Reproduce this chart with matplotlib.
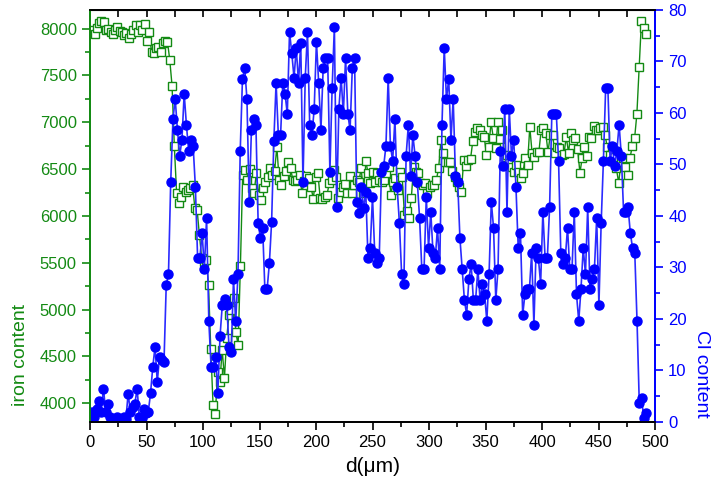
import numpy as np
import matplotlib
matplotlib.use("Agg")
import matplotlib.pyplot as plt
from matplotlib.ticker import MultipleLocator

plt.rcParams['font.family'] = ['Liberation Sans', 'DejaVu Sans']

# iron content (left axis) in order along d
iron = [7950, 7990, 7940, 8010, 8060, 8080, 8070, 7990, 8000, 7960, 7940, 7980,
        8020, 7970, 7960, 7930, 7950, 7900, 7940, 7990, 8040, 7960,
        8040, 7990, 8050, 7870, 7965, 7750, 7740, 7795, 7800, 7750, 7850, 7870,
        7860, 7665, 7390, 6750,
        6245, 6140, 6200, 6310, 6255, 6280, 6300, 6330, 6085, 6065, 5800, 5550,
        5510, 5530, 5265, 4580, 3980, 3885, 4335, 4230, 4570, 4270, 4700, 4945,
        4995, 5125, 4760, 4620, 5465, 6440, 6490, 6385,
        6500, 6300, 6245, 6460, 6225, 6170, 6300, 6365, 6415, 6510, 6440, 6480,
        6735, 6385, 6330, 6425, 6480, 6575, 6510, 6385, 6375, 6380, 6440, 6245,
        6375, 6425, 6400, 6310, 6180,
        6415, 6460, 6190, 6180, 6200, 6225, 6350, 6385, 6490, 6415, 6190, 6255,
        6310, 6340, 6245, 6425, 6245, 6330, 6385, 6365, 6510, 6245, 6590, 6460,
        6350, 6470, 6365, 6460, 6385, 6365, 6385, 6460, 6525, 6225, 6365, 6405,
        6280, 6470, 6415, 6010, 6050, 5980, 6190, 6525, 6470, 6460, 6350,
        6330, 6350, 6245, 6310, 6330, 6330, 6385, 6510, 6810, 6675, 6575, 6580,
        6580, 6480, 6415, 6365, 6310, 6255, 6600, 6535, 6600, 6610, 6800, 6900,
        6940, 6920, 6865, 6845, 6650, 6735, 7000, 6830, 6725, 7000, 6820, 6920,
        6630, 6650, 6565, 6525, 6470, 6545, 6470, 6405, 6460, 6620, 6545, 6950,
        6675, 6630, 6680, 6685, 6920, 6940, 6885, 6685, 6865, 6865, 6675, 6735,
        6725, 6650, 6660, 6845, 6675, 6885, 6810, 6830, 6715, 6460, 6620, 6735,
        6640, 6845, 6830, 6960, 6920, 6920, 6940, 6950, 6865, 6735, 6650, 6735,
        6630, 6510, 6350, 6575, 6620, 6525, 6440, 6620, 6750, 6830, 7090, 7590,
        8080, 8010, 7945]

# Cl content (right axis)
cl = [1.5, 2, 1, 2.5, 4, 2, 6.5, 2, 3.5, 1, 0.5, 0.5, 1, 0.5, 0.5, 1, 0.5, 5.5,
      2, 3, 3.5, 6.5, 1, 0.8, 2.5, 1.7, 2, 5.6, 10.7, 14.6, 7.8, 12.6, 12, 11.7,
      26.6, 28.7, 46.6, 58.8, 62.7, 56.7, 51.7, 54.8, 63.7, 57.7, 52.6, 54.8,
      53.6, 45.6, 31.8, 31.8, 36.7, 29.7, 39.6, 19.6, 10.7, 10.7, 12.6, 5.6,
      16.7, 22.7, 23.9, 22.7, 14.6, 13.6, 27.7, 19.6, 28.7, 52.6, 66.6, 68.7,
      62.7, 42.7, 56.7, 58.8,
      57.7, 38.6, 35.7, 37.7, 25.8, 25.8, 30.8, 38.8, 54.6, 65.8, 55.7, 55.7,
      65.8, 63.7, 59.8, 75.7, 71.6, 66.8, 72.6, 65.8, 73.6, 46.6, 66.8, 75.7,
      57.7, 55.7, 60.8, 73.8, 65.8, 56.7, 68.7, 70.7, 70.7, 48.6, 64.8, 76.7,
      41.7, 60.8, 66.8, 59.8, 70.7, 59.8, 56.7, 68.7, 70.7, 42.7,
      40.5, 45.6, 41.5, 44.7, 31.8, 33.8, 43.7, 32.8, 30.8, 31.8, 48.6, 49.7,
      53.6, 66.8, 53.6, 50.7, 58.8, 45.6, 38.6, 28.7, 26.8, 51.7, 57.7, 47.8,
      55.7, 51.7, 46.6, 39.6, 29.7, 29.7, 43.7, 33.8, 40.8, 32.8, 31.8, 37.7,
      29.7, 57.7, 72.6, 62.7, 66.6, 54.8, 62.7, 47.8, 46.6, 35.7, 29.7, 23.7,
      20.8, 27.7, 30.7, 23.7,
      23.7, 29.7, 23.7, 26.8, 24.8, 19.6, 28.7, 42.7, 37.7, 23.7, 29.7, 52.6,
      49.7, 60.8, 40.8, 60.8, 51.7, 54.8, 45.6, 33.8, 36.7, 20.8, 24.8, 25.8,
      25.8, 32.8, 18.8, 33.8, 31.8, 26.8, 40.8, 31.8, 31.8, 41.7, 59.8, 59.8,
      59.8, 50.7, 32.8, 30.7, 31.8, 37.7, 29.7, 29.7, 40.8, 24.8, 19.6,
      25.8, 33.8, 28.7, 41.7, 25.8, 27.7, 29.7, 39.6, 22.7, 38.6, 50.7, 64.8,
      64.8, 50.7, 53.6, 49.7, 52.6, 57.7, 51.7, 40.8, 40.8, 41.7, 36.7, 33.8,
      32.8, 19.6, 3.7, 4.7, 0.8, 1.7]

# measurement positions are evenly spaced along the profile
d_iron = np.linspace(0, 492, len(iron))
d_cl = np.linspace(0, 492, len(cl))

green = '#138a13'
blue = '#0000ff'

fig = plt.figure(figsize=(7.23, 4.93), dpi=100)
ax = fig.add_axes([0.1245, 0.144, 0.7815, 0.836])
ax2 = ax.twinx()

ax.plot(d_iron, iron, color=green, lw=1.0, marker='s', ms=5.5,
        mfc='white', mec=green, mew=1.0)
ax2.plot(d_cl, cl, color='#2a2aff', lw=1.2, marker='o', ms=6.5,
         mfc=blue, mec=blue)

ax.set_xlim(0, 500)
ax.set_ylim(3800, 8200)
ax2.set_ylim(0, 80)

ax.xaxis.set_major_locator(MultipleLocator(50))
ax.xaxis.set_minor_locator(MultipleLocator(25))
ax.yaxis.set_major_locator(MultipleLocator(500))
ax.yaxis.set_minor_locator(MultipleLocator(250))
ax2.yaxis.set_major_locator(MultipleLocator(10))
ax2.yaxis.set_minor_locator(MultipleLocator(5))

ax.tick_params(axis='x', which='major', direction='out', length=6, width=1.2,
               labelsize=12, top=False)
ax.tick_params(axis='x', which='minor', direction='out', length=3.5, width=1.2,
               top=False)
ax.tick_params(axis='y', which='major', direction='out', length=6, width=1.2,
               colors=green, labelsize=12)
ax.tick_params(axis='y', which='minor', direction='out', length=3.5, width=1.2,
               colors=green)
ax2.tick_params(axis='y', which='major', direction='out', length=6, width=1.2,
                colors=blue, labelsize=12)
ax2.tick_params(axis='y', which='minor', direction='out', length=3.5, width=1.2,
                colors=blue)

# top axis: inward ticks, no labels
top = ax.secondary_xaxis('top')
top.xaxis.set_major_locator(MultipleLocator(25))
top.tick_params(direction='in', length=5, width=1.2, labeltop=False)

for a in (ax, ax2):
    for s in a.spines.values():
        s.set_linewidth(1.3)
ax.spines['left'].set_color(green)
ax2.spines['left'].set_color(green)
ax2.spines['right'].set_color(blue)
ax.spines['right'].set_color(blue)

ax.set_xlabel('d(μm)', fontsize=15)
ax.set_ylabel('iron content', fontsize=14, color=green)
ax.yaxis.set_label_coords(-0.108, 0.163)
ax2.set_ylabel('Cl content', fontsize=14, color=blue, rotation=270)
ax2.yaxis.set_label_coords(1.097, 0.117)
ax.xaxis.set_label_coords(0.5, -0.085)

fig.savefig('out.png', dpi=100)
